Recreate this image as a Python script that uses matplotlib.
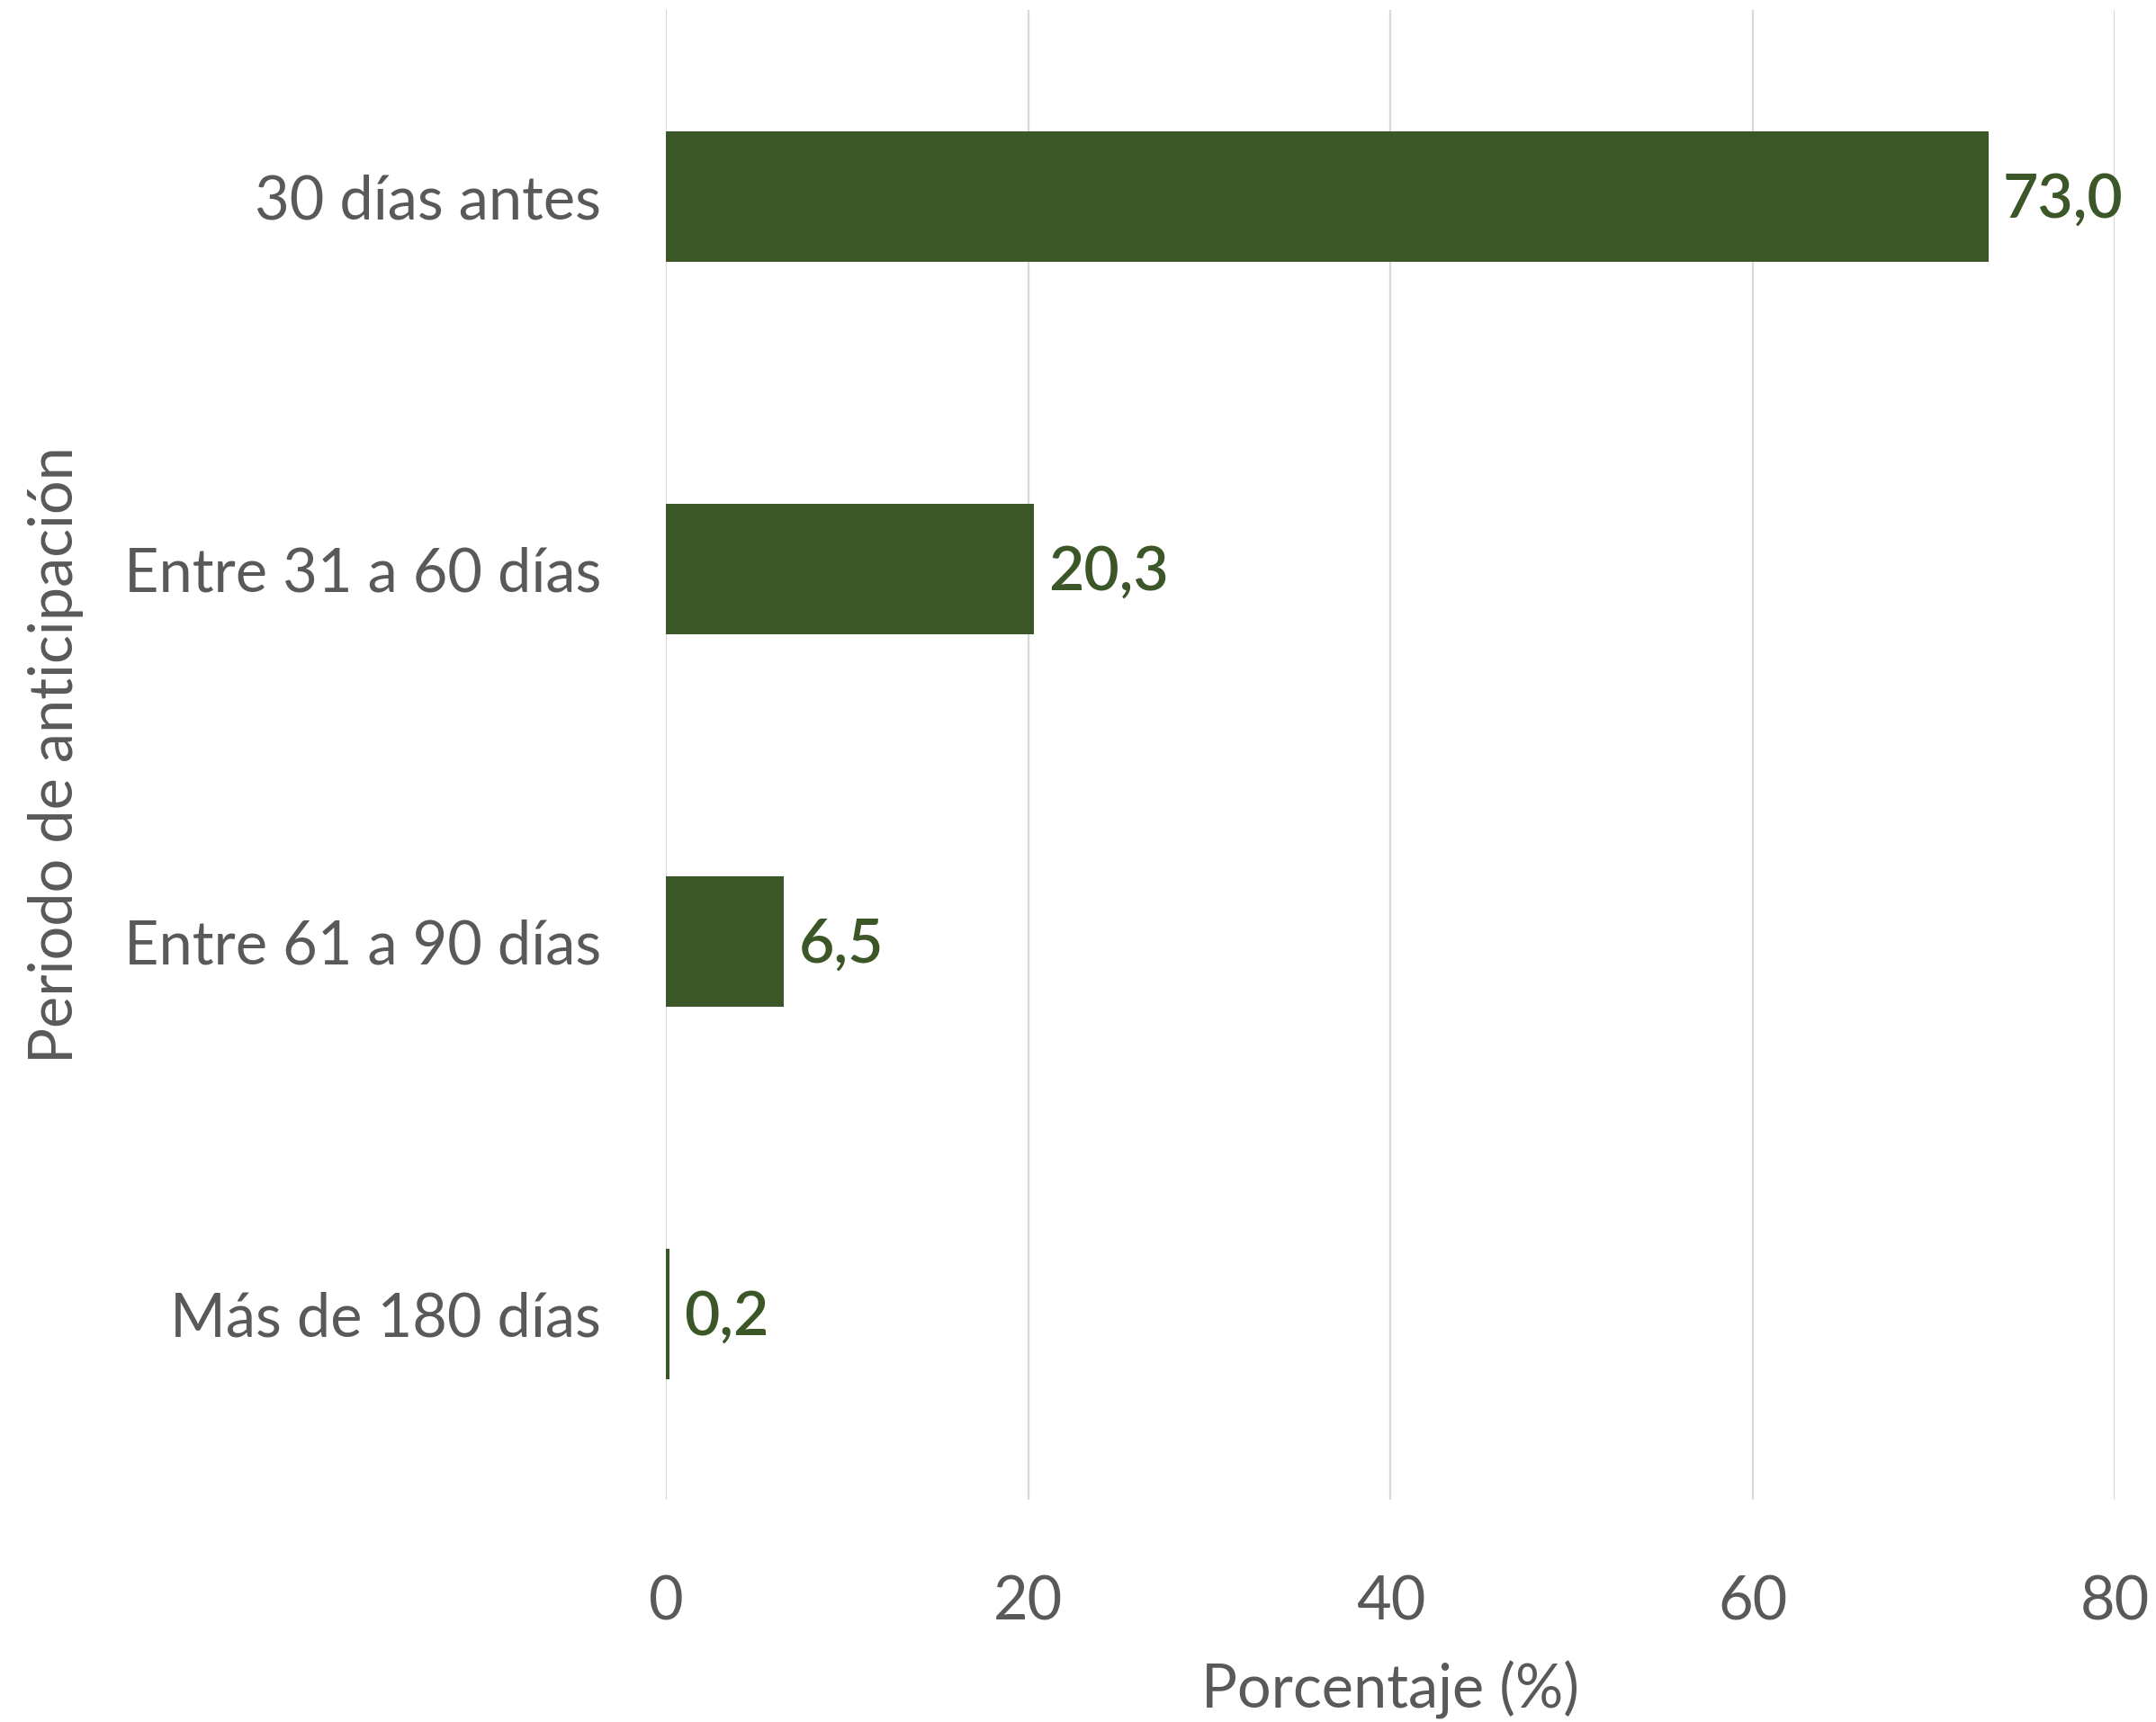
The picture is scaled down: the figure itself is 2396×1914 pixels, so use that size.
import matplotlib.pyplot as plt

# datos
categorias = ['30 días antes', 'Entre 31 a 60 días', 'Entre 61 a 90 días', 'Más de 180 días']
porcentajes = [73.0, 20.3, 6.5, 0.2]
etiquetas = ['73,0', '20,3', '6,5', '0,2']
ticks_x = [0, 20, 40, 60, 80]

plt.rcParams['font.family'] = ['Lato', 'DejaVu Sans']

verde = '#3B5727'
gris = '#595959'

fig = plt.figure(figsize=(11.98, 9.57), dpi=200)
ax = fig.add_axes([0.309, 0.129, 0.672, 0.865])

pos = list(range(len(categorias)))
ax.barh(pos, porcentajes, height=0.35, color=verde, zorder=3)

# etiquetas de valor
for p, v, t in zip(pos, porcentajes, etiquetas):
    ax.text(v + 0.8, p + 0.01, t, va='center', ha='left', fontsize=24.5,
            color=verde, fontweight='semibold', zorder=4)

ax.set_ylim(3.5, -0.5)
ax.set_xlim(0, 80)
ax.set_yticks(pos)
ax.set_yticklabels(categorias)
ax.set_xticks(ticks_x)
ax.set_xticklabels([str(t) for t in ticks_x])

ax.tick_params(axis='y', length=0, pad=26, labelsize=24, labelcolor=gris)
ax.tick_params(axis='x', length=0, pad=30, labelsize=24, labelcolor=gris)

ax.grid(axis='x', color='#D9D9D9', linewidth=0.8, zorder=0)
for s in ax.spines.values():
    s.set_visible(False)

ax.set_xlabel('Porcentaje (%)', fontsize=24, color=gris, labelpad=12)
ax.set_ylabel('Periodo de anticipación', fontsize=24, color=gris, labelpad=16)

fig.savefig('out.png', dpi=200)
